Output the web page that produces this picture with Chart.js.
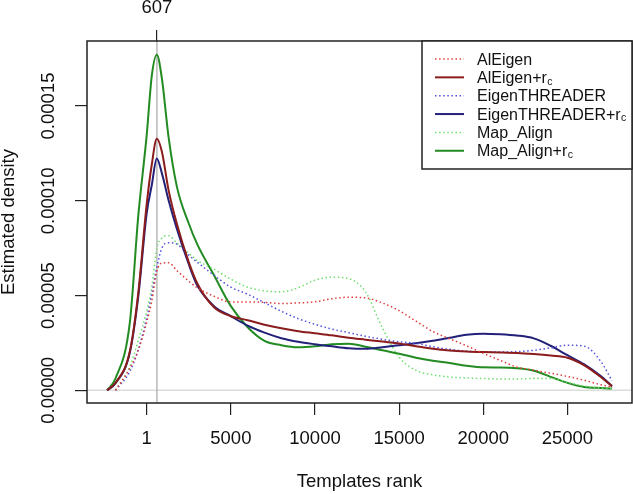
<!DOCTYPE html>
<html>
<head>
<meta charset="utf-8">
<script src="https://cdn.jsdelivr.net/npm/chart.js@4.4.0/dist/chart.umd.min.js"></script>
<style>
html, body { margin: 0; padding: 0; background: #fff; }
#wrap { width: 633px; height: 494px; }
</style>
</head>
<body>
<div id="wrap"><canvas id="chart" width="633" height="494"></canvas></div>
<script>
// template rank where each density estimate was read
const rankGrid = [-2350, -1850, -1000, -500, 0, 300, 600, 900, 1300, 1800, 2500, 3000, 4000, 5000,
    6000, 7000, 8000, 9000, 10000, 11000, 12000, 13000, 14000, 15000, 16000, 17000, 18000, 19000,
    20000, 21000, 22000, 23000, 24000, 25000, 26000, 27000, 27650];

const alEigen = [null, 0, 1.16e-5, 2.11e-5, 3.59e-5, 4.70e-5, 6.28e-5, 6.71e-5, 6.73e-5, 6.31e-5, 5.76e-5, 5.41e-5,
    4.96e-5, 4.66e-5, 4.66e-5, 4.64e-5, 4.58e-5, 4.61e-5, 4.67e-5, 4.83e-5, 4.91e-5, 4.88e-5, 4.61e-5, 4.20e-5,
    3.65e-5, 3.10e-5, 2.72e-5, 2.35e-5, 1.95e-5, 1.58e-5, 1.22e-5, 1.06e-5, 9.0e-6, 7.3e-6, 5.3e-6, 2.9e-6, 1.7e-6];
const alEigenRc = [0, 4.0e-6, 2.06e-5, 5.14e-5, 9.82e-5, 1.19e-4, 1.327e-4, 1.26e-4, 1.056e-4, 8.76e-5, 6.76e-5, 5.65e-5,
    4.38e-5, 3.91e-5, 3.70e-5, 3.46e-5, 3.27e-5, 3.12e-5, 3.01e-5, 2.90e-5, 2.77e-5, 2.67e-5, 2.57e-5, 2.47e-5,
    2.32e-5, 2.19e-5, 2.10e-5, 2.05e-5, 2.02e-5, 2.00e-5, 1.97e-5, 1.91e-5, 1.83e-5, 1.72e-5, 1.32e-5, 6.9e-6, 2.0e-6];
const eigenThreader = [null, 0, 1.0e-5, 2.16e-5, 3.80e-5, 5.07e-5, 6.49e-5, 7.50e-5, 7.79e-5, 7.71e-5, 7.13e-5, 6.76e-5,
    6.07e-5, 5.44e-5, 5.07e-5, 4.62e-5, 4.17e-5, 3.78e-5, 3.48e-5, 3.23e-5, 3.04e-5, 2.85e-5, 2.69e-5, 2.56e-5,
    2.48e-5, 2.30e-5, 2.16e-5, 2.07e-5, 2.02e-5, 2.02e-5, 2.04e-5, 2.11e-5, 2.24e-5, 2.38e-5, 2.33e-5, 1.50e-5, 5.0e-6];
const eigenThreaderRc = [0, 3.7e-6, 2.0e-5, 4.96e-5, 9.35e-5, 1.082e-4, 1.223e-4, 1.146e-4, 1.003e-4, 8.5e-5, 6.65e-5, 5.54e-5,
    4.44e-5, 3.91e-5, 3.41e-5, 3.04e-5, 2.75e-5, 2.56e-5, 2.43e-5, 2.32e-5, 2.22e-5, 2.19e-5, 2.27e-5, 2.38e-5,
    2.48e-5, 2.61e-5, 2.77e-5, 2.93e-5, 2.99e-5, 2.96e-5, 2.89e-5, 2.74e-5, 2.35e-5, 1.85e-5, 1.37e-5, 7.4e-6, 2.3e-6];
const mapAlign = [null, 0, 1.27e-5, 2.64e-5, 4.17e-5, 5.44e-5, 7.5e-5, 8.03e-5, 8.16e-5, 7.76e-5, 7.23e-5, 6.86e-5,
    6.39e-5, 5.86e-5, 5.44e-5, 5.25e-5, 5.20e-5, 5.41e-5, 5.81e-5, 5.97e-5, 5.89e-5, 5.2e-5, 3.3e-5, 1.75e-5,
    1.05e-5, 8.2e-6, 7.0e-6, 6.5e-6, 6.2e-6, 6.0e-6, 6.0e-6, 6.3e-6, 6.2e-6, 4.2e-6, 2.3e-6, 1.1e-6, 0.7e-6];
const mapAlignRc = [0, 6.3e-6, 3.59e-5, 9.2e-5, 1.346e-4, 1.658e-4, 1.771e-4, 1.647e-4, 1.336e-4, 1.072e-4, 8.8e-5, 7.71e-5,
    6.07e-5, 4.44e-5, 3.33e-5, 2.61e-5, 2.38e-5, 2.27e-5, 2.32e-5, 2.43e-5, 2.46e-5, 2.30e-5, 2.11e-5, 1.93e-5,
    1.72e-5, 1.56e-5, 1.44e-5, 1.30e-5, 1.21e-5, 1.20e-5, 1.16e-5, 1.03e-5, 7.1e-6, 3.9e-6, 1.7e-6, 1.2e-6, 0.9e-6];

const seriesLabels = ['AlEigen', 'AlEigen+r', 'EigenTHREADER', 'EigenTHREADER+r', 'Map_Align', 'Map_Align+r'];
const seriesSubscripts = ['', 'c', '', 'c', '', 'c'];
const seriesColors = ['#e03c3c', '#8b1c1c', '#5050dd', '#23207a', '#6ede6e', '#228b22'];
const seriesDotted = [true, false, true, false, true, false];
const seriesValues = [alEigen, alEigenRc, eigenThreader, eigenThreaderRc, mapAlign, mapAlignRc];

const xTicks = [1, 5000, 10000, 15000, 20000, 25000];
const yTicks = [0, 0.00005, 0.0001, 0.00015];
const markedRank = 607;

const FONT = '"Liberation Sans", Arial, Helvetica, sans-serif';
const X_MIN = -3547, X_MAX = 28836;

const referenceLinesPlugin = {
    id: 'referenceLines',
    beforeDatasetsDraw(chart) {
        const { ctx, chartArea: { left, right, top, bottom }, scales: { x, y } } = chart;
        ctx.save();
        ctx.lineWidth = 1.5;
        ctx.strokeStyle = '#dcdcdc';
        const y0 = y.getPixelForValue(0);
        ctx.beginPath();
        ctx.moveTo(left, y0);
        ctx.lineTo(right, y0);
        ctx.stroke();
        ctx.strokeStyle = '#b8b8b8';
        const xm = x.getPixelForValue(markedRank);
        ctx.beginPath();
        ctx.moveTo(xm, top);
        ctx.lineTo(xm, bottom);
        ctx.stroke();
        ctx.restore();
    }
};

const boxLegendPlugin = {
    id: 'boxLegend',
    afterDatasetsDraw(chart) {
        const { ctx, chartArea: ca } = chart;
        ctx.save();
        ctx.lineWidth = 1.5;
        ctx.strokeStyle = '#222';
        ctx.strokeRect(ca.left, ca.top, ca.right - ca.left, ca.bottom - ca.top);

        // legend box in the top right corner
        const lw = 210, lh = 128;
        const lx = ca.right - lw, ly = ca.top;
        ctx.fillStyle = '#fff';
        ctx.fillRect(lx, ly, lw, lh);
        ctx.strokeRect(lx, ly, lw, lh);
        chart.data.datasets.forEach((ds, i) => {
            const ry = ly + 18 + i * 18.35;
            ctx.beginPath();
            ctx.setLineDash(ds.borderDash || []);
            ctx.lineWidth = ds.borderWidth;
            ctx.strokeStyle = ds.borderColor;
            ctx.moveTo(lx + 13, ry);
            ctx.lineTo(lx + 42, ry);
            ctx.stroke();
            ctx.setLineDash([]);
            ctx.fillStyle = '#111';
            ctx.textBaseline = 'alphabetic';
            ctx.textAlign = 'left';
            ctx.font = '16px ' + FONT;
            ctx.fillText(seriesLabels[i], lx + 55, ry + 5.5);
            if (seriesSubscripts[i]) {
                const w = ctx.measureText(seriesLabels[i]).width;
                ctx.font = '10.5px ' + FONT;
                ctx.fillText(seriesSubscripts[i], lx + 55 + w + 0.5, ry + 7.3);
            }
        });
        ctx.restore();
    }
};

const datasets = seriesLabels.map((label, i) => ({
    label: label + seriesSubscripts[i],
    data: rankGrid.map((r, j) => ({ x: r, y: seriesValues[i][j] })),
    borderColor: seriesColors[i],
    borderWidth: seriesDotted[i] ? 1.5 : 2,
    borderDash: seriesDotted[i] ? [1.5, 2.6] : [],
    cubicInterpolationMode: 'monotone',
    pointRadius: 0,
    fill: false,
    spanGaps: false
}));

const tickFont = { family: FONT, size: 18.5 };

new Chart(document.getElementById('chart').getContext('2d'), {
    type: 'line',
    data: { datasets },
    options: {
        responsive: false,
        animation: false,
        layout: { padding: { right: 1 } },
        plugins: { legend: { display: false }, tooltip: { enabled: false } },
        scales: {
            x: {
                type: 'linear', position: 'bottom', min: X_MIN, max: X_MAX,
                afterBuildTicks: s => { s.ticks = xTicks.map(v => ({ value: v })); },
                afterFit: s => { s.height = 91; },
                border: { display: false },
                grid: { drawOnChartArea: false, tickLength: 12, color: '#222', lineWidth: 1.2 },
                ticks: { autoSkip: false, maxRotation: 0, padding: 13, color: '#111', font: tickFont, callback: v => String(v) },
                title: { display: true, text: 'Templates rank', color: '#111', font: tickFont, padding: { top: 0, bottom: 1 } }
            },
            xTop: {
                type: 'linear', position: 'top', min: X_MIN, max: X_MAX,
                afterBuildTicks: s => { s.ticks = [{ value: markedRank }]; },
                afterFit: s => { s.height = 41; },
                border: { display: false },
                grid: { drawOnChartArea: false, tickLength: 11, color: '#222', lineWidth: 1.2 },
                ticks: { autoSkip: false, maxRotation: 0, padding: 11, color: '#111', font: tickFont, callback: v => String(v) }
            },
            y: {
                type: 'linear', position: 'left', min: -0.0000067, max: 0.0001843,
                afterBuildTicks: s => { s.ticks = yTicks.map(v => ({ value: v })); },
                afterFit: s => { s.width = 87; },
                border: { display: false },
                grid: { drawOnChartArea: false, tickLength: 12, color: '#222', lineWidth: 1.2 },
                ticks: { autoSkip: false, minRotation: 90, maxRotation: 90, crossAlign: 'center', padding: -7.5,
                    color: '#111', font: tickFont, callback: v => v.toFixed(5) },
                title: { display: true, text: 'Estimated density', color: '#111', font: tickFont, padding: { top: -2 } }
            }
        }
    },
    plugins: [referenceLinesPlugin, boxLegendPlugin]
});
</script>
</body>
</html>
